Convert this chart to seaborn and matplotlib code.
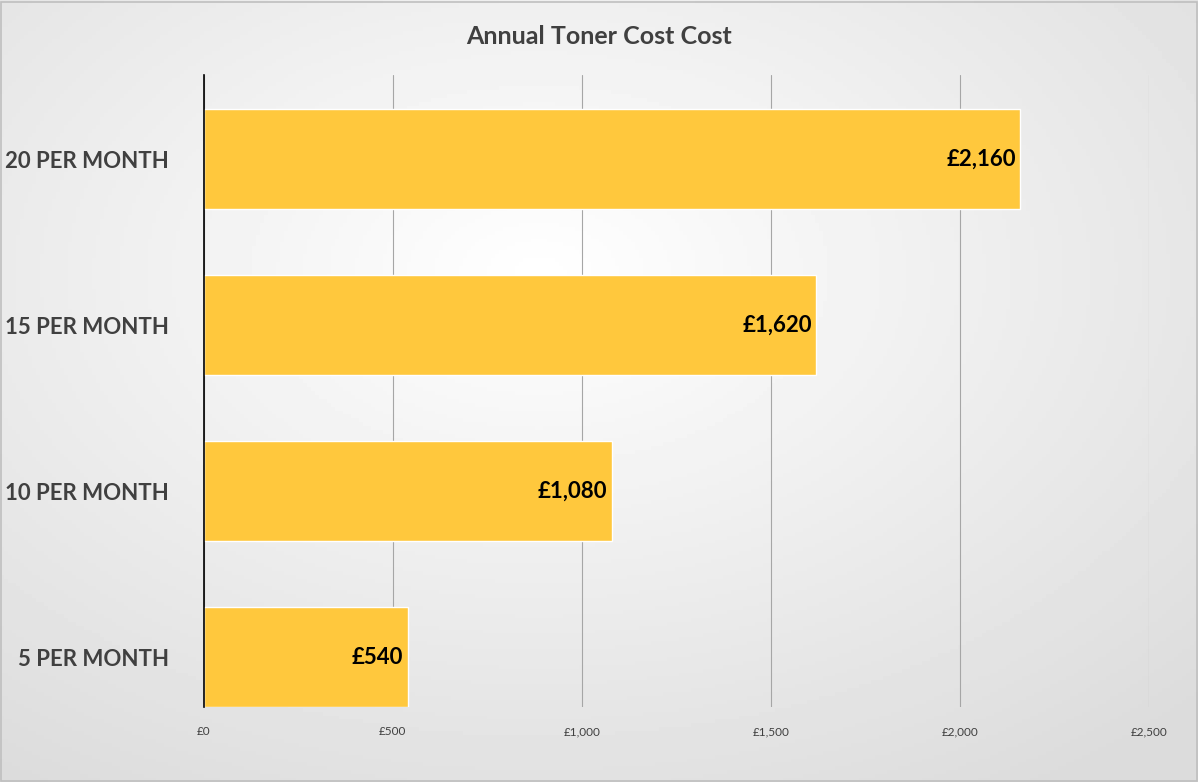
import numpy as np
import pandas as pd
import matplotlib
matplotlib.use("Agg")
import matplotlib.pyplot as plt
import seaborn as sns

categories = ["20 PER MONTH", "15 PER MONTH", "10 PER MONTH", "5 PER MONTH"]
costs = [2160, 1620, 1080, 540]
value_labels = ["£2,160", "£1,620", "£1,080", "£540"]
xticks = [0, 500, 1000, 1500, 2000, 2500]
xtick_labels = ["£0", "£500", "£1,000", "£1,500", "£2,000", "£2,500"]

sns.set_theme(style="white")
plt.rcParams["font.family"] = ["Lato", "DejaVu Sans"]

df = pd.DataFrame({"category": categories, "cost": costs})

fig = plt.figure(figsize=(11.98, 7.82), dpi=100)

# radial gradient background
bg = fig.add_axes([0, 0, 1, 1], zorder=0)
yy, xx = np.mgrid[0:1:200j, 0:1:300j]
r = np.sqrt(((xx - 0.45) / 0.9) ** 2 + ((yy - 0.35) / 0.9) ** 2)
shade = np.clip(1.0 - 0.16 * r, 0.86, 1.0)
bg.imshow(shade, cmap="gray", vmin=0, vmax=1, aspect="auto", extent=[0, 1, 0, 1])
bg.set_xlim(0, 1); bg.set_ylim(0, 1)
bg.axis("off")
bg.add_patch(plt.Rectangle((0.001, 0.001), 0.998, 0.997, fill=False,
                           edgecolor="#bfbfbf", lw=1.2, transform=bg.transAxes))

ax = fig.add_axes([0.170, 0.096, 0.789, 0.808], zorder=1)
ax.set_facecolor("none")
sns.barplot(data=df, x="cost", y="category", color="#FFC83D", width=0.6,
            saturation=1, ax=ax, zorder=2)

for i, (v, lab) in enumerate(zip(costs, value_labels)):
    ax.text(v - 12, i, lab, ha="right", va="center", fontsize=16,
            fontweight="bold", color="black", zorder=3)

ax.set_xlim(0, 2500)
ax.set_ylim(3.3, -0.506)
ax.set_xticks(xticks)
ax.set_xticklabels(xtick_labels, fontsize=8.5, color="#404040")
ax.tick_params(axis="y", labelsize=16, colors="#404040", length=0, pad=25)
for t in ax.get_yticklabels():
    t.set_fontweight("bold")
ax.tick_params(axis="x", length=0, pad=14)
ax.grid(axis="x", color="#a6a6a6", lw=0.8, zorder=0)
ax.set_axisbelow(True)
for s in ["top", "right", "bottom"]:
    ax.spines[s].set_visible(False)
ax.spines["left"].set_color("black")
ax.spines["left"].set_linewidth(1.2)
ax.set_xlabel("")
ax.set_ylabel("")

fig.text(0.5, 0.953, "Annual Toner Cost Cost", ha="center", va="center",
         fontsize=18, fontweight="bold", color="#404040")

fig.savefig("out.png", dpi=100)
